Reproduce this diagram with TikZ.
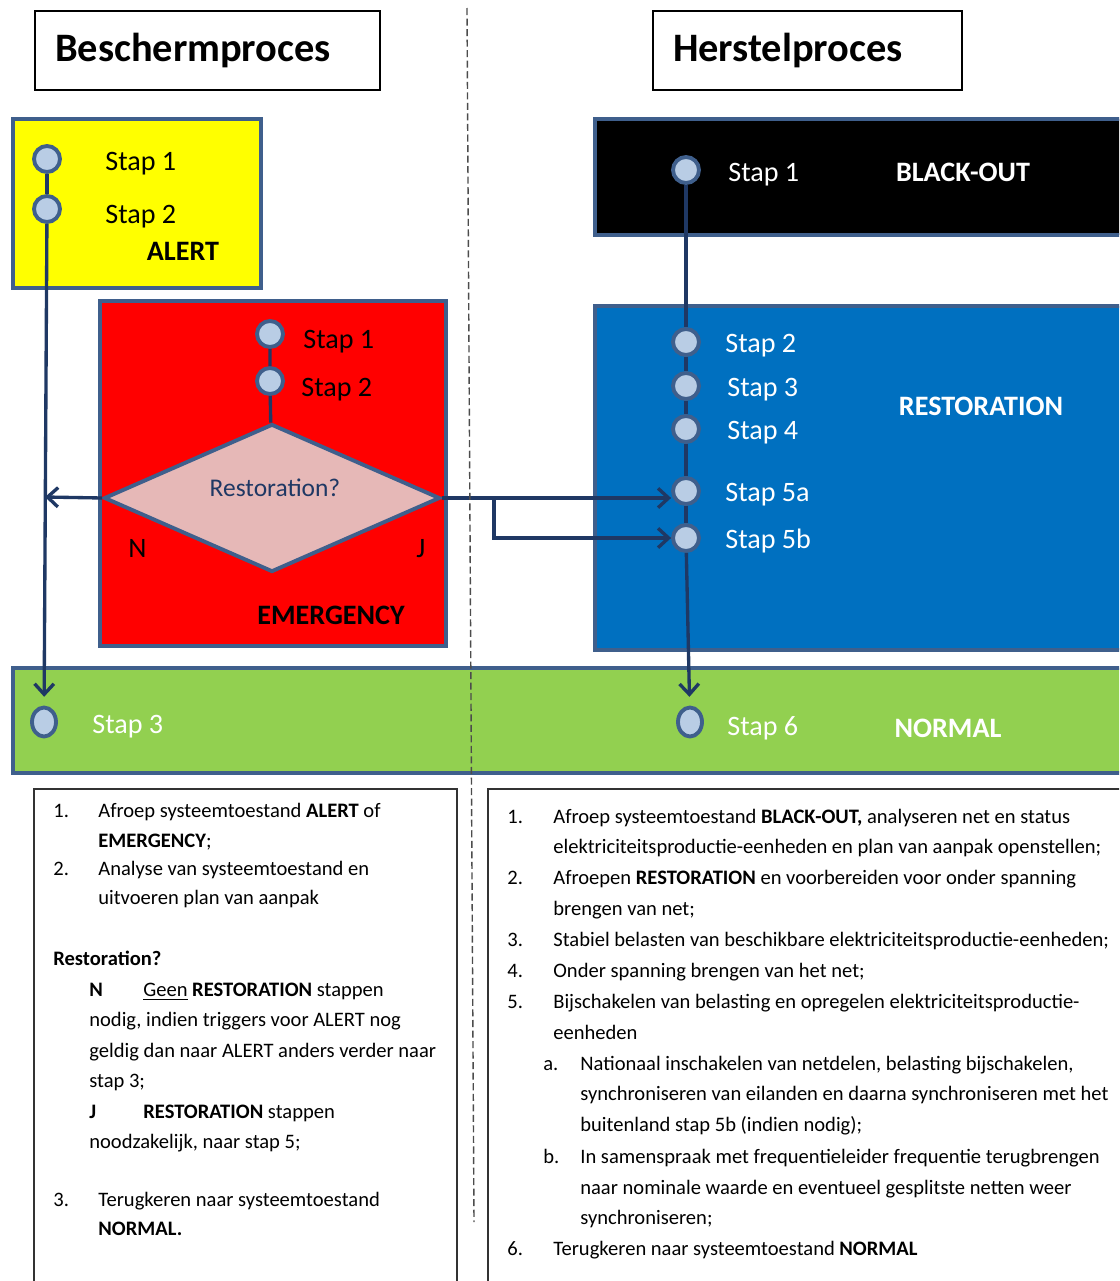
\documentclass[tikz,border=0pt]{standalone}
\usepackage{fontspec}
\setmainfont{Carlito}
\usetikzlibrary{shapes.geometric,arrows.meta,positioning,calc}

\definecolor{rand}{HTML}{3F5F8C}
\definecolor{lijn}{HTML}{1F3864}
\definecolor{bol}{HTML}{B9CDE5}
\definecolor{geel}{HTML}{FFFF00}
\definecolor{rood}{HTML}{FF0000}
\definecolor{blauw}{HTML}{0070C0}
\definecolor{groen}{HTML}{92D050}
\definecolor{ruit}{HTML}{E6B8B7}

\tikzset{
  staat/.style={draw=rand, line width=2.6pt},
  stapbol/.style={circle, draw=rand, fill=bol, line width=2.2pt, minimum size=0.52cm, inner sep=0pt},
  stapei/.style={ellipse, draw=rand, fill=bol, line width=2.2pt, minimum width=0.48cm, minimum height=0.58cm, inner sep=0pt},
  staptxt/.style={anchor=base west, yshift=-5.2pt, inner sep=0pt, font=\fontsize{16}{19}\selectfont},
  staattxt/.style={inner sep=0pt, font=\fontsize{16}{19}\selectfont\bfseries},
  verb/.style={draw=lijn, line width=1.9pt},
  pijl/.style={verb, -{Straight Barb[length=6pt,width=11pt]}},
  titel/.style={draw, line width=1pt, minimum height=1.58cm, align=left, inner xsep=0.4cm,
    font=\fontsize{23}{27}\selectfont\bfseries},
  kader/.style={draw=black!80, line width=0.9pt},
  regel/.style={anchor=base west, yshift=-3.6pt, inner sep=0pt, font=\fontsize{11.7}{14}\selectfont},
}

\begin{document}
\begin{tikzpicture}[x=0.02cm, y=-0.02cm]
    \useasboundingbox (0,0) rectangle (1119,1281);
    \clip (0,0) rectangle (1119,1281);

    % titels
    \node[titel, text width=6.1cm] (bescherm) at (207.5,50.5) {Beschermproces};
    \node[titel, text width=5.38cm] (herstel) at (807.5,50.5) {Herstelproces};

    % systeemtoestanden
    \draw[staat, fill=geel] (13,119) rectangle (261,288);
    \draw[staat, fill=rood] (100,301) rectangle (446,646);
    \draw[staat, fill=black] (595,119) rectangle (1135,235);
    \draw[staat, fill=blauw] (595,306) rectangle (1135,650);
    \draw[staat, fill=groen] (13,668) rectangle (1135,773);

    % ALERT
    \node[stapbol] (a1) at (47,159) {};
    \node[stapbol] (a2) at (47,209) {};
    \node[staptxt] (a1t) at (105,161) {Stap 1};
    \node[staptxt] (a2t) at (105,214) {Stap 2};
    \node[staattxt] (alert) at (183,251) {ALERT};

    % EMERGENCY
    \node[stapbol] (e1) at (270,334) {};
    \node[stapbol] (e2) at (270,381) {};
    \node[staptxt] (e1t) at (303,339) {Stap 1};
    \node[staptxt] (e2t) at (301,387) {Stap 2};
    \node[diamond, draw=rand, fill=ruit, line width=2.2pt, inner sep=0pt,
          minimum width=6.72cm, minimum height=2.96cm] (ruit) at (272,498) {};
    \node[text=lijn, font=\fontsize{14.5}{17}\selectfont] (vraag) at (275,488) {Restoration?};
    \node[staptxt] (nee) at (128,548) {N};
    \node[staptxt] (ja) at (416,548) {J};
    \node[staattxt] (emergency) at (331,615) {EMERGENCY};

    % BLACK-OUT en RESTORATION
    \node[stapbol] (b1) at (686,170) {};
    \node[staptxt, text=white] (b1t) at (728,172) {Stap 1};
    \node[staattxt, text=white] (blackout) at (963,172) {BLACK-OUT};
    \foreach \naam/\y/\x/\tekst in {b2/342/725/Stap 2, b3/386/727/Stap 3, b4/429/727/Stap 4,
        b5a/491/725/Stap 5a, b5b/538/725/Stap 5b} {
        \node[stapbol] (\naam) at (686,\y) {};
        \node[staptxt, text=white] (\naam t) at (\x,\y+1) {\tekst};
    }
    \node[staattxt, text=white] (restoration) at (981,406) {RESTORATION};

    % NORMAL
    \node[stapei] (s3) at (44,722) {};
    \node[stapei] (s6) at (690,722) {};
    \node[staptxt, text=white] (s3t) at (92,724) {Stap 3};
    \node[staptxt, text=white] (s6t) at (727,726) {Stap 6};
    \node[staattxt, text=white] (normal) at (948,728) {NORMAL};

    % verbindingen
    \draw[verb] (a1) -- (a2);
    \draw[pijl, shorten >=5pt] (a2) -- (s3);
    \draw[verb] (e1) -- (e2) -- (ruit);
    \coordinate (nkant) at (45,497);
    \coordinate (splits) at (494,497);
    \draw[pijl] (ruit.west) -- (nkant);
    \draw[pijl] (ruit.east) -- (ruit.east -| b5a.west);
    \draw[pijl] (splits) |- (b5b);
    \draw[verb] (b1) -- (b2) -- (b3) -- (b4) -- (b5a) -- (b5b);
    \draw[pijl, shorten >=5pt] (b5b) -- (s6);

    % scheidingslijn
    \coordinate (scheidboven) at (467,8);
    \coordinate (scheidonder) at (474,1222);
    \draw[black!70, line width=0.8pt, dash pattern=on 4pt off 2pt] (scheidboven) -- (scheidonder);

    % toelichting
    \draw[kader] (34,789) rectangle (457,1295);
    \draw[kader] (488,789) rectangle (1135,1295);

    % Left list
    \foreach \y/\x/\nr [count=\i] in {811/53/1., 869/53/2., 990/89/\textbf{N}, 1112/89/\textbf{J}, 1200/53/3.} {
        \node[regel] (lnr\i) at (\x,\y) {\nr};
    }
    \foreach \y/\x/\tekst [count=\i] in {
        811/98/{Afroep systeemtoestand \textbf{ALERT} of},
        841/98/{\textbf{EMERGENCY};},
        869/98/{Analyse van systeemtoestand en},
        898/98/{uitvoeren plan van aanpak},
        959/53/{\textbf{Restoration?}},
        990/143/{\underline{Geen} \textbf{RESTORATION} stappen},
        1020/89/{nodig, indien triggers voor ALERT nog},
        1051/89/{geldig dan naar ALERT anders verder naar},
        1081/89/{stap 3;},
        1112/143/{\textbf{RESTORATION} stappen},
        1142/89/{noodzakelijk, naar stap 5;},
        1200/98/{Terugkeren naar systeemtoestand},
        1229/98/{\textbf{NORMAL.}}} {
        \node[regel] (lr\i) at (\x,\y) {\tekst};
    }

    % Right list
    \foreach \y/\x/\nr [count=\i] in {817/507/1., 878/507/2., 940/507/3., 971/507/4., 1002/507/5.,
        1064/543/a., 1157/543/b., 1249/507/6.} {
        \node[regel] (rnr\i) at (\x,\y) {\nr};
    }
    \foreach \y/\x/\tekst [count=\i] in {
        817/553/{Afroep systeemtoestand \textbf{BLACK-OUT,} analyseren net en status},
        847/553/{elektriciteitsproductie-eenheden en plan van aanpak openstellen;},
        878/553/{Afroepen \textbf{RESTORATION} en voorbereiden voor onder spanning},
        909/553/{brengen van net;},
        940/553/{Stabiel belasten van beschikbare elektriciteitsproductie-eenheden;},
        971/553/{Onder spanning brengen van het net;},
        1002/553/{Bijschakelen van belasting en opregelen elektriciteitsproductie-},
        1033/553/{eenheden},
        1064/580/{Nationaal inschakelen van netdelen, belasting bijschakelen,},
        1094/580/{synchroniseren van eilanden en daarna synchroniseren met het},
        1125/580/{buitenland stap 5b (indien nodig);},
        1157/580/{In samenspraak met frequentieleider frequentie terugbrengen},
        1188/580/{naar nominale waarde en eventueel gesplitste netten weer},
        1218/580/{synchroniseren;},
        1249/553/{Terugkeren naar systeemtoestand \textbf{NORMAL}}} {
        \node[regel] (rr\i) at (\x,\y) {\tekst};
    }
\end{tikzpicture}
\end{document}
